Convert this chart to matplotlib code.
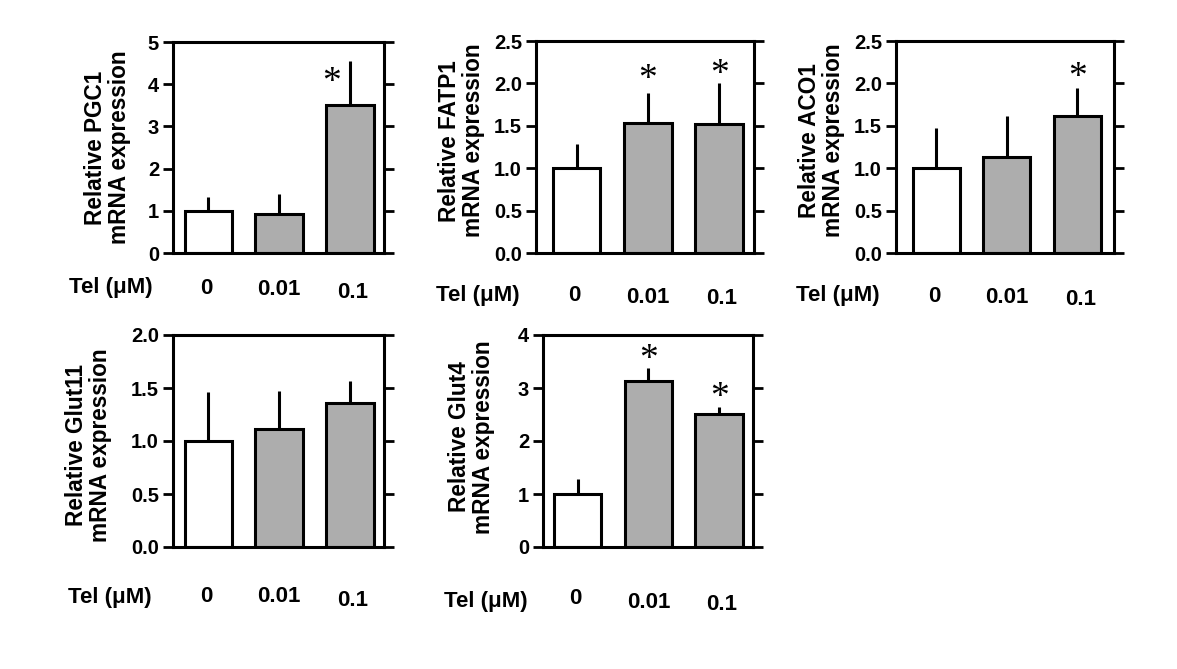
import numpy as np
import matplotlib
matplotlib.use("Agg")
import matplotlib.pyplot as plt

plt.rcParams['font.family'] = ['Liberation Sans', 'DejaVu Sans']
plt.rcParams['font.weight'] = 'bold'

# doses and values (mean, upper SD)
doses = ["0", "0.01", "0.1"]
genes = ["PGC1", "FATP1", "ACO1", "Glut11", "Glut4"]

pgc1_mean = [1.00, 0.92, 3.50]
pgc1_sd = [0.33, 0.47, 1.05]
fatp1_mean = [1.00, 1.53, 1.525]
fatp1_sd = [0.28, 0.36, 0.475]
aco1_mean = [1.00, 1.13, 1.62]
aco1_sd = [0.47, 0.49, 0.32]
glut11_mean = [1.00, 1.11, 1.355]
glut11_sd = [0.46, 0.36, 0.21]
glut4_mean = [1.00, 3.14, 2.51]
glut4_sd = [0.29, 0.24, 0.14]

# significance marks: (x position, y position)
pgc1_star = [(1.74, 4.22)]
fatp1_star = [(1, 2.14), (2, 2.20)]
aco1_star = [(2, 2.16)]
glut11_star = []
glut4_star = [(1, 3.69), (2, 2.96)]

y_max = [5, 2.5, 2.5, 2.0, 4]
y_step = [1, 0.5, 0.5, 0.5, 1]

means = [pgc1_mean, fatp1_mean, aco1_mean, glut11_mean, glut4_mean]
sds = [pgc1_sd, fatp1_sd, aco1_sd, glut11_sd, glut4_sd]
stars = [pgc1_star, fatp1_star, aco1_star, glut11_star, glut4_star]

W, H = 1177, 669
fig = plt.figure(figsize=(W / 100, H / 100), dpi=100)

# axes boxes in pixels: left, top, right, bottom
boxes = [(173, 42, 384, 253), (536, 41, 754, 253), (896, 41, 1114, 253),
         (173, 335, 384, 547), (543, 335, 753, 547)]
xlims = [(-0.5, 2.48), (-0.57, 2.49), (-0.57, 2.52), (-0.5, 2.48), (-0.49, 2.48)]
label_x = [-0.31, -0.34, -0.34, -0.40, -0.34]
label_y = [0.50, 0.53, 0.53, 0.48, 0.52]
# pixel drop below the axis for: Tel label, 0, 0.01, 0.1
drops = [(34, 35, 36, 39), (42, 42, 44, 45), (42, 43, 44, 46),
         (50, 49, 50, 53), (55, 52, 55, 58)]
tel_dx = [-62, -58, -58, -63, -57]

for i in range(5):
    l, t, r, b = boxes[i]
    ax = fig.add_axes([l / W, 1 - b / H, (r - l) / W, (b - t) / H])
    x = np.arange(3)
    ax.bar(x, means[i], width=0.67, color=['white', '#adadad', '#adadad'],
           edgecolor='black', linewidth=2.2, zorder=2)
    ax.errorbar(x, means[i], yerr=[np.zeros(3), sds[i]], fmt='none',
                ecolor='black', elinewidth=2.2, capsize=0, zorder=3)
    for sx, sy in stars[i]:
        ax.annotate('*', (sx, sy), xytext=(0, -8), textcoords='offset pixels',
                    ha='center', va='center', fontsize=27,
                    family='Liberation Serif', fontweight='normal')
    ax.set_xlim(*xlims[i])
    ax.set_ylim(0, y_max[i])
    ax.set_yticks(np.arange(0, y_max[i] + 0.001, y_step[i]))
    if y_step[i] < 1:
        ax.set_yticklabels(['%.1f' % v for v in ax.get_yticks()])
    ax.set_xticks([])
    ax.tick_params(axis='y', which='both', direction='out', length=7, width=2,
                   right=True, labelsize=14.5, pad=3)
    for sp in ax.spines.values():
        sp.set_linewidth(2.2)

    ax.annotate('Tel (μM)', (0, 0), xycoords='axes fraction',
                xytext=(tel_dx[i], -drops[i][0]), textcoords='offset pixels',
                ha='center', va='center', fontsize=16, fontweight='bold')
    for k, d in enumerate(doses):
        ax.annotate(d, (k, 0), xycoords=('data', 'axes fraction'),
                    xytext=(-2 if k == 0 else (3 if k == 2 else 0), -drops[i][k + 1]),
                    textcoords='offset pixels',
                    ha='center', va='center', fontsize=16, fontweight='bold')

    ax.text(label_x[i], label_y[i], 'Relative ' + genes[i] + '\nmRNA expression',
            transform=ax.transAxes, rotation=90, ha='center', va='center',
            fontsize=16.3, fontweight='bold', linespacing=1.05)

fig.savefig('out.png', dpi=100)
